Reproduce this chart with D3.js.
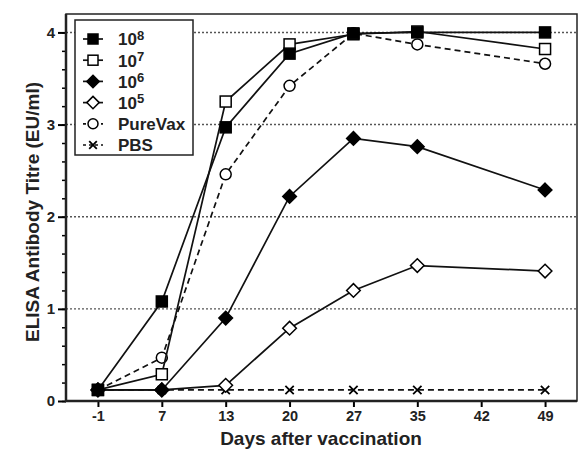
<!DOCTYPE html>
<html>
<head>
<meta charset="utf-8">
<script src="https://cdn.jsdelivr.net/npm/d3@7"></script>
<style>
  body { margin: 0; background: #fff; }
  svg { display: block; font-family: "Liberation Sans", Arial, sans-serif; }
</style>
</head>
<body>
<svg id="chart" width="580" height="449"></svg>
<script>
// Days (categorical, equally spaced in the original)
const days = ["-1", "7", "13", "20", "27", "35", "42", "49"];
const sampleDays = ["-1", "7", "13", "20", "27", "35", "49"];

// ELISA titres per group (EU/ml)
const dose8 = [0.12, 1.08, 2.97, 3.77, 3.99, 4.00, 4.00];
const dose7 = [0.12, 0.29, 3.25, 3.87, 3.98, 4.01, 3.82];
const dose6 = [0.12, 0.12, 0.90, 2.22, 2.85, 2.76, 2.29];
const dose5 = [0.12, 0.12, 0.17, 0.79, 1.20, 1.47, 1.41];
const pureVax = [0.12, 0.47, 2.46, 3.42, 3.99, 3.87, 3.66];
const pbs = [0.12, 0.12, 0.12, 0.12, 0.12, 0.12, 0.12];

const yTicks = [0, 1, 2, 3, 4];

const series = [
  { label: "8", values: dose8, symbol: "square", fill: "#000", dashed: false },
  { label: "7", values: dose7, symbol: "square", fill: "#fff", dashed: false },
  { label: "6", values: dose6, symbol: "diamond", fill: "#000", dashed: false },
  { label: "5", values: dose5, symbol: "diamond", fill: "#fff", dashed: false },
  { label: "PureVax", values: pureVax, symbol: "circle", fill: "#fff", dashed: true },
  { label: "PBS", values: pbs, symbol: "cross", fill: "none", dashed: true },
];

const FONT = "Liberation Sans, Arial, sans-serif";
const svg = d3.select("#chart");
const margin = { left: 66, right: 3, top: 14, bottom: 48 };
const width = 580, height = 449;

const x = d3.scalePoint().domain(days).range([margin.left, width - margin.right]).padding(0.5);
const y = d3.scaleLinear().domain([0, 4.2]).range([401, margin.top]);

// dotted gridlines
svg.append("g")
  .selectAll("line")
  .data(yTicks.slice(1))
  .join("line")
  .attr("x1", margin.left).attr("x2", width - margin.right)
  .attr("y1", (d) => y(d)).attr("y2", (d) => y(d))
  .attr("stroke", "#555").attr("stroke-width", 1.4)
  .attr("stroke-dasharray", "2,2");

// frame (top/right)
svg.append("rect")
  .attr("x", margin.left).attr("y", margin.top)
  .attr("width", width - margin.right - margin.left)
  .attr("height", y(0) - margin.top)
  .attr("fill", "none").attr("stroke", "#222").attr("stroke-width", 1.5);

// y axis with minor ticks
const yAxis = svg.append("g").attr("transform", `translate(${margin.left},0)`);
yAxis.call(d3.axisLeft(y).tickValues(d3.range(0, 4.01, 0.2)).tickSize(4).tickFormat(""))
  .call((g) => g.select(".domain").remove())
  .call((g) => g.selectAll("line").attr("stroke-width", 1.5));
yAxis.append("g")
  .call(d3.axisLeft(y).tickValues(yTicks).tickSize(8).tickPadding(3).tickFormat(d3.format("d")))
  .call((g) => g.select(".domain").remove())
  .call((g) => g.selectAll("line").attr("stroke-width", 2))
  .call((g) => g.selectAll("text").attr("font-size", 15).attr("font-weight", "bold")
    .attr("fill", "#222").attr("font-family", FONT));
yAxis.append("line").attr("y1", margin.top).attr("y2", y(0) + 1)
  .attr("stroke", "#222").attr("stroke-width", 2.5);

// x axis
const xAxis = svg.append("g").attr("transform", `translate(0,${y(0)})`);
xAxis.call(d3.axisBottom(x).tickSize(6).tickPadding(4))
  .call((g) => g.select(".domain").remove())
  .call((g) => g.selectAll("line").attr("stroke-width", 2))
  .call((g) => g.selectAll("text").attr("font-size", 14.5).attr("font-weight", "bold")
    .attr("fill", "#222").attr("font-family", FONT));
xAxis.append("line").attr("x1", margin.left - 1).attr("x2", width - margin.right)
  .attr("stroke", "#222").attr("stroke-width", 2.5);

// axis titles
svg.append("text")
  .attr("x", 321).attr("y", 445)
  .attr("text-anchor", "middle").attr("font-size", 19).attr("font-weight", "bold")
  .attr("fill", "#222").text("Days after vaccination");
svg.append("text")
  .attr("transform", "translate(32,212) rotate(-90)")
  .attr("text-anchor", "middle").attr("dy", "0.35em")
  .attr("font-size", 19).attr("font-weight", "bold")
  .attr("fill", "#222").text("ELISA Antibody Titre (EU/ml)");

function drawSymbol(g, s, size) {
  if (s.symbol === "square") {
    g.append("rect").attr("x", -size / 2).attr("y", -size / 2)
      .attr("width", size).attr("height", size)
      .attr("fill", s.fill).attr("stroke", "#000").attr("stroke-width", 1.5);
  } else if (s.symbol === "diamond") {
    const r = size * 0.62;
    g.append("path").attr("d", `M0,${-r}L${r},0L0,${r}L${-r},0Z`)
      .attr("fill", s.fill).attr("stroke", "#000").attr("stroke-width", 1.5);
  } else if (s.symbol === "circle") {
    g.append("circle").attr("r", size / 2)
      .attr("fill", s.fill).attr("stroke", "#000").attr("stroke-width", 1.5);
  } else {
    const r = size * 0.38;
    g.append("path").attr("d", `M${-r},${-r}L${r},${r}M${-r},${r}L${r},${-r}`)
      .attr("stroke", "#000").attr("stroke-width", 1.8);
  }
}

const line = d3.line().x((d) => x(d.day)).y((d) => y(d.v));

// draw series (PBS first so others sit on top)
const plot = svg.append("g");
[...series].reverse().forEach((s) => {
  const pts = s.values.map((v, i) => ({ day: sampleDays[i], v }));
  plot.append("path")
    .datum(pts)
    .attr("d", line)
    .attr("fill", "none").attr("stroke", "#111").attr("stroke-width", 1.7)
    .attr("stroke-dasharray", s.dashed ? "6,4" : null);
  pts.forEach((p) => {
    const g = plot.append("g").attr("transform", `translate(${x(p.day)},${y(p.v)})`);
    drawSymbol(g, s, 11);
  });
});

// legend
const legend = svg.append("g");
legend.append("rect")
  .attr("x", 75).attr("y", 20).attr("width", 118).attr("height", 135)
  .attr("fill", "#fff").attr("stroke", "#222").attr("stroke-width", 1.5);
series.forEach((s, i) => {
  const ly = 39 + i * 21.2;
  const row = legend.append("g").attr("transform", `translate(93,${ly})`);
  row.append("line").attr("x1", -10).attr("x2", 10)
    .attr("stroke", "#111").attr("stroke-width", 1.7)
    .attr("stroke-dasharray", s.dashed ? "3,3" : null);
  drawSymbol(row, s, 10);
  const t = legend.append("text")
    .attr("x", 118).attr("y", ly).attr("dy", "0.38em")
    .attr("font-size", 17).attr("font-weight", "bold").attr("fill", "#222");
  if (s.label === "PureVax" || s.label === "PBS") {
    t.text(s.label);
  } else {
    t.text("10");
    t.append("tspan").attr("dy", "-0.45em").attr("font-size", 13).text(s.label);
  }
});
</script>
</body>
</html>
